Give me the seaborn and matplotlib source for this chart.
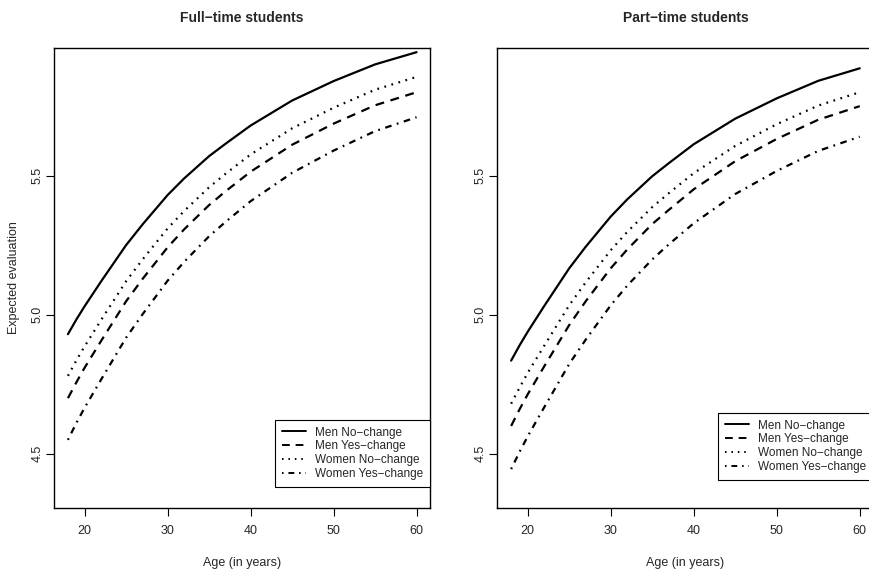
import pandas as pd
import matplotlib
matplotlib.use("Agg")
import matplotlib.pyplot as plt
import seaborn as sns

ages = [18, 19, 20, 22, 25, 27, 30, 32, 35, 37, 40, 45, 50, 55, 60]

# full-time students
ft_men_no = [4.93, 4.982, 5.03, 5.12, 5.25, 5.325, 5.43, 5.49, 5.57, 5.615, 5.68, 5.77, 5.84, 5.90, 5.944]
ft_men_yes = [4.70, 4.756, 4.809, 4.906, 5.048, 5.129, 5.242, 5.307, 5.394, 5.444, 5.514, 5.611, 5.687, 5.753, 5.80]
ft_women_no = [4.78, 4.835, 4.886, 4.981, 5.12, 5.199, 5.31, 5.373, 5.458, 5.507, 5.576, 5.67, 5.744, 5.809, 5.855]
ft_women_yes = [4.55, 4.61, 4.665, 4.767, 4.917, 5.002, 5.122, 5.19, 5.282, 5.334, 5.408, 5.51, 5.59, 5.66, 5.71]

# part-time students
pt_men_no = [4.835, 4.889, 4.939, 5.032, 5.167, 5.245, 5.353, 5.415, 5.498, 5.545, 5.613, 5.705, 5.778, 5.841, 5.886]
pt_men_yes = [4.60, 4.659, 4.714, 4.815, 4.963, 5.049, 5.167, 5.235, 5.326, 5.377, 5.451, 5.552, 5.632, 5.701, 5.75]
pt_women_no = [4.68, 4.737, 4.791, 4.889, 5.034, 5.117, 5.232, 5.298, 5.387, 5.437, 5.509, 5.607, 5.685, 5.752, 5.80]
pt_women_yes = [4.445, 4.506, 4.563, 4.668, 4.823, 4.911, 5.034, 5.105, 5.199, 5.253, 5.329, 5.434, 5.517, 5.589, 5.64]

groups = ["Men No\u2212change", "Men Yes\u2212change", "Women No\u2212change", "Women Yes\u2212change"]
panel_titles = ["Full\u2212time students", "Part\u2212time students"]
x_ticks = [20, 30, 40, 50, 60]
y_ticks = [4.5, 5.0, 5.5]

sns.set_style("ticks")
plt.rcParams["font.family"] = ["Liberation Sans Narrow", "Liberation Sans", "DejaVu Sans"]

# R style line types
dash_styles = {
    groups[0]: "",
    groups[1]: (4, 3),
    groups[2]: (0.8, 2.5),
    groups[3]: (0.8, 2.5, 3, 2.5),
}

fig = plt.figure(figsize=(8.7, 5.7), dpi=100)
ax1 = fig.add_axes([54 / 870, 62 / 570, 376.5 / 870, 460 / 570])
ax2 = fig.add_axes([497.2 / 870, 62 / 570, 376.5 / 870, 460 / 570])

panels = [
    (ax1, [ft_men_no, ft_men_yes, ft_women_no, ft_women_yes]),
    (ax2, [pt_men_no, pt_men_yes, pt_women_no, pt_women_yes]),
]

for i, (ax, series) in enumerate(panels):
    rows = []
    for g, vals in zip(groups, series):
        for a, v in zip(ages, vals):
            rows.append({"age": a, "value": v, "group": g})
    df = pd.DataFrame(rows)
    sns.lineplot(data=df, x="age", y="value", style="group", style_order=groups,
                 dashes=dash_styles, color="black", linewidth=1.6, ax=ax, legend=False)

    ax.set_xlim(16.32, 61.68)
    ax.set_ylim(4.305, 5.959)
    ax.set_xticks(x_ticks)
    ax.set_yticks(y_ticks)
    ax.set_yticklabels(["4.5", "5.0", "5.5"], rotation=90, va="center")
    ax.tick_params(axis="both", length=5.5, width=0.8, labelsize=9, color="black")
    ax.tick_params(axis="x", pad=7)
    ax.tick_params(axis="y", pad=2)
    for s in ax.spines.values():
        s.set_visible(True)
        s.set_color("black")
        s.set_linewidth(1.0)
    ax.set_title(panel_titles[i], fontsize=10, fontweight="bold", pad=19)
    ax.set_xlabel("Age (in years)", fontsize=9, labelpad=14)
    ax.set_ylabel("Expected evaluation" if i == 0 else "", fontsize=9, labelpad=8,
                  family=["Liberation Sans", "DejaVu Sans"])

    handles = [plt.Line2D([], [], color="black", linewidth=1.4,
                          linestyle="-" if dash_styles[g] == "" else (0, dash_styles[g]))
               for g in groups]
    leg = ax.legend(handles, groups, loc="lower right",
                    bbox_to_anchor=(1.0, 21 / 460 if i == 0 else 28 / 460),
                    borderaxespad=0, fancybox=False, framealpha=1,
                    edgecolor="black", handlelength=2.0,
                    labelspacing=0.15, borderpad=0.6,
                    prop={"family": ["Liberation Sans", "DejaVu Sans"], "size": 8.5})
    leg.get_frame().set_linewidth(0.8)

fig.savefig("out.png", dpi=100)
